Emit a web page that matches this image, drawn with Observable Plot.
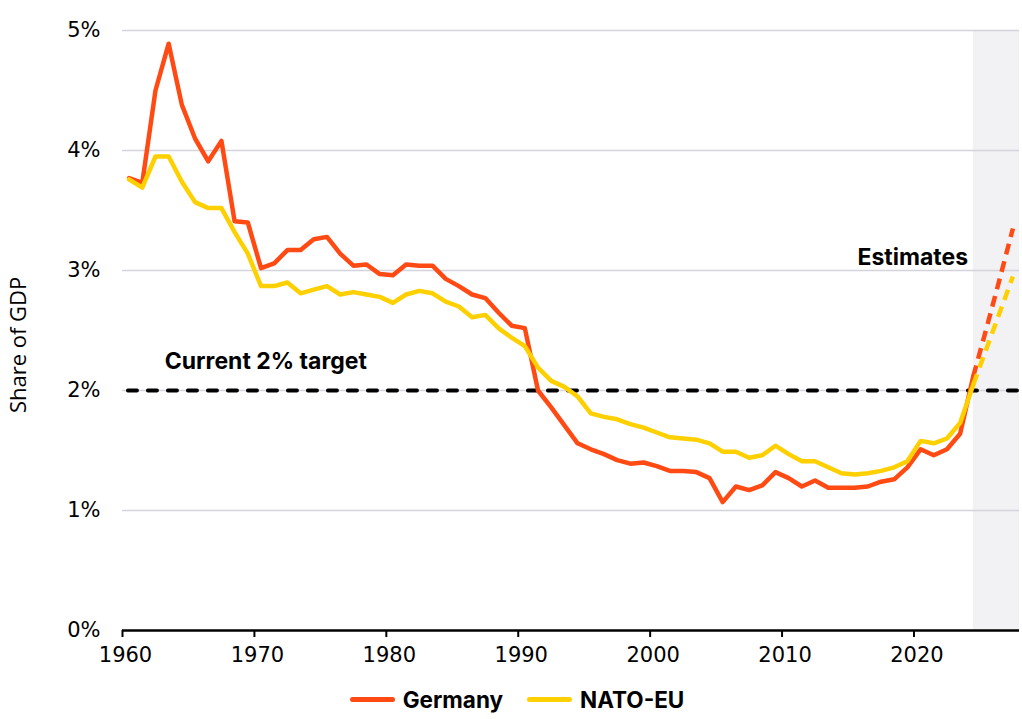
<!DOCTYPE html>
<html>
<head>
<meta charset="utf-8">
<script src="https://cdn.jsdelivr.net/npm/d3@7"></script>
<script src="https://cdn.jsdelivr.net/npm/@observablehq/plot@0.6"></script>
<style>
  html, body { margin: 0; padding: 0; background: #fff; }
  #chart { width: 1022px; }
  .legend { display: flex; justify-content: center; align-items: center; gap: 24px; font-family: Inter, sans-serif; font-weight: 700; font-size: 22.5px; color: #000; margin-top: 6px; padding-left: 12px; }
  .legend span.sw { display: inline-block; width: 45px; height: 5px; border-radius: 3px; margin-right: 8px; vertical-align: middle; }
  .legend .item { display: flex; align-items: center; }
</style>
</head>
<body>
<div id="chart"></div>
<script>
const years = d3.range(1960, 2028);
const germany = [
  3.77, 3.73, 4.50, 4.89, 4.38, 4.10, 3.91, 4.08, 3.41, 3.40,
  3.02, 3.06, 3.17, 3.17, 3.26, 3.28, 3.14, 3.04, 3.05, 2.97,
  2.96, 3.05, 3.04, 3.04, 2.93, 2.87, 2.80, 2.77, 2.65, 2.54,
  2.52, 2.00, 1.86, 1.71, 1.56, 1.51, 1.47, 1.42, 1.39, 1.40,
  1.37, 1.33, 1.33, 1.32, 1.27, 1.07, 1.20, 1.17, 1.21, 1.32,
  1.27, 1.20, 1.25, 1.19, 1.19, 1.19, 1.20, 1.24, 1.26, 1.36,
  1.51, 1.46, 1.51, 1.64, 2.12, 2.52, 2.93, 3.35
];
const natoEU = [
  3.76, 3.69, 3.95, 3.95, 3.74, 3.57, 3.52, 3.52, 3.32, 3.14,
  2.87, 2.87, 2.90, 2.81, 2.84, 2.87, 2.80, 2.82, 2.80, 2.78,
  2.73, 2.80, 2.83, 2.81, 2.74, 2.70, 2.61, 2.63, 2.52, 2.44,
  2.37, 2.19, 2.08, 2.03, 1.95, 1.81, 1.78, 1.76, 1.72, 1.69,
  1.65, 1.61, 1.60, 1.59, 1.56, 1.49, 1.49, 1.44, 1.46, 1.54,
  1.47, 1.41, 1.41, 1.36, 1.31, 1.30, 1.31, 1.33, 1.36, 1.41,
  1.58, 1.56, 1.60, 1.73, 2.05, 2.35, 2.65, 2.95
];
const estimateStart = 2024;
const target = [2];
const xTicks = [1960, 1970, 1980, 1990, 2000, 2010, 2020];
const yTicks = [0, 1, 2, 3, 4, 5];
const seriesNames = ["Germany", "NATO-EU"];
const seriesColors = ["#FF4A14", "#FFD000"];

const rows = [];
years.forEach((y, i) => {
  rows.push({year: y, t: y + 0.5, value: germany[i], series: "Germany"});
  rows.push({year: y, t: y + 0.5, value: natoEU[i], series: "NATO-EU"});
});
const actual = rows.filter(d => d.year <= estimateStart);
const est = rows.filter(d => d.year >= estimateStart);

const tickFont = "'DejaVu Sans', sans-serif";
const boldFont = "Inter, sans-serif";

const chart = Plot.plot({
  width: 1022,
  height: 680,
  marginLeft: 122,
  marginRight: 3,
  marginTop: 30,
  marginBottom: 50,
  style: {fontFamily: tickFont, fontSize: "21px", color: "#000", background: "#fff", overflow: "visible"},
  x: {domain: [1960, 2028]},
  y: {domain: [0, 5]},
  color: {domain: seriesNames, range: seriesColors},
  marks: [
    Plot.rect([estimateStart + 0.5], {x1: d => d, x2: 2028, y1: 0, y2: 5, fill: "#f2f2f5"}),
    Plot.gridY(yTicks.filter(d => d > 0), {stroke: "#d4d4dc", strokeOpacity: 1, strokeWidth: 1.5}),
    Plot.axisY(yTicks, {tickSize: 0, tickPadding: 22, tickFormat: d => d + "%", fontSize: 21, label: null}),
    Plot.text(["Share of GDP"], {x: 1960, y: 2.38, dx: -104, rotate: -90, fontSize: 22, fill: "#000", fontFamily: "'Open Sans', sans-serif"}),
    Plot.ruleY(target, {x1: 1960.45, x2: 2028, stroke: "#000", strokeWidth: 4, strokeDasharray: "9,11", strokeLinecap: "round"}),
    Plot.line(actual, {x: "t", y: "value", z: "series", stroke: "series", strokeWidth: 4.5, strokeLinejoin: "round", strokeLinecap: "round"}),
    Plot.line(est, {x: "t", y: "value", z: "series", stroke: "series", strokeWidth: 4.5, strokeDasharray: "11,7", strokeLinecap: "butt"}),
    Plot.ruleY([0], {stroke: "#000", strokeWidth: 2.5}),
    Plot.axisX(xTicks, {tickSize: 7, tickFormat: () => "", label: null, strokeWidth: 2}),
    Plot.axisX(xTicks, {tickSize: 0, tickPadding: 17, tickFormat: d => String(d), fontSize: 21, dx: 3, label: null}),
    Plot.text(["Current 2% target"], {x: 1963.2, y: 2.24, textAnchor: "start", fontWeight: 700, fontSize: 23, fill: "#000", fontFamily: boldFont}),
    Plot.text(["Estimates"], {x: 2024.1, y: 3.11, textAnchor: "end", fontWeight: 700, fontSize: 23, fill: "#000", fontFamily: boldFont})
  ]
});
document.getElementById("chart").appendChild(chart);

const legend = document.createElement("div");
legend.className = "legend";
seriesNames.forEach((n, i) => {
  const it = document.createElement("div");
  it.className = "item";
  it.innerHTML = `<span class="sw" style="background:${seriesColors[i]}"></span>${n}`;
  legend.appendChild(it);
});
document.getElementById("chart").appendChild(legend);
</script>
</body>
</html>
